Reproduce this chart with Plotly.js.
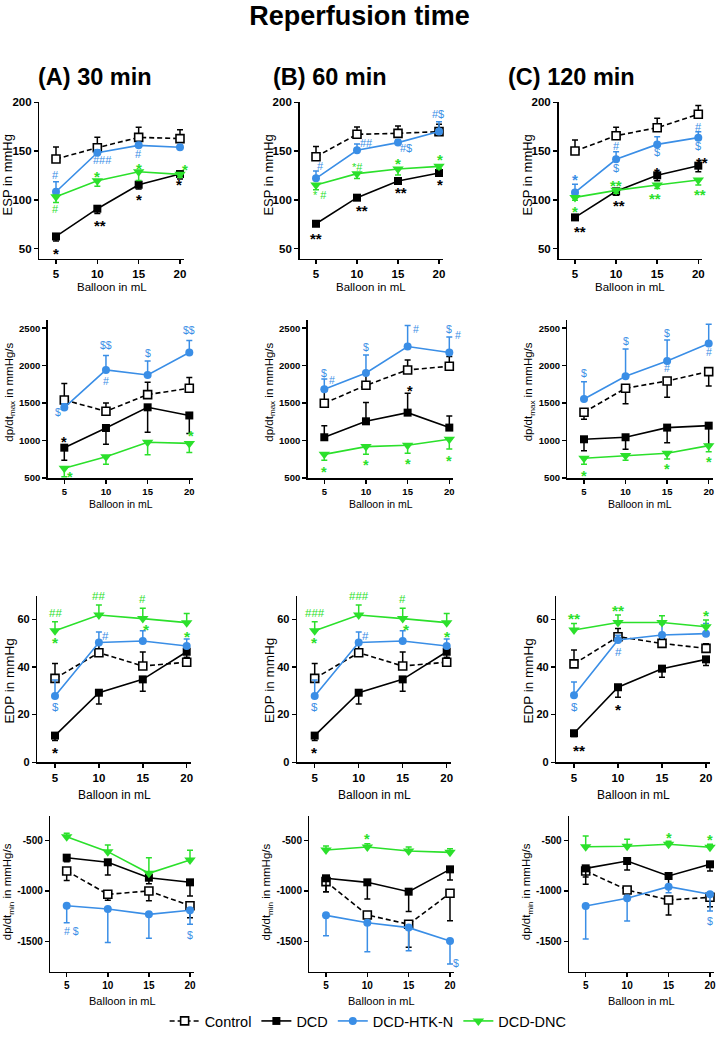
<!DOCTYPE html>
<html>
<head>
<meta charset="utf-8">
<script src="https://cdn.plot.ly/plotly-3.0.1.min.js"></script>
<style>html,body{margin:0;padding:0;background:#fff}</style>
</head>
<body>
<div id="chart" style="width:719px;height:1040px"></div>
<script>
// ---------- data ----------
const doses = [5, 10, 15, 20];
const groups = ['Control', 'DCD', 'DCD-HTK-N', 'DCD-DNC'];
const times = ['(A) 30 min', '(B) 60 min', '(C) 120 min'];

// each array: one row per reperfusion time (30, 60, 120 min), one value per balloon volume
// error values are signed: + bar drawn above the mean, - bar drawn below
const espControl    = [[141.9,153.5,164.1,162.8],[144.3,167.2,168.2,170.0],[150.1,165.8,174.0,187.7]];
const espControlErr = [[12.3,10.6,10.3,9.2],[10.3,7.5,7.5,7.5],[11.3,8.6,9.6,8.9]];
const espDCD        = [[62.6,91.0,115.6,126.5],[75.6,102.3,119.4,127.6],[82.1,108.8,125.2,135.1]];
const espDCDErr     = [[-4.7,-4.8,-4.4,-5.0],[-2.5,-2.0,-2.5,-2.5],[-2.7,-4.0,-5.5,-6.2]];
const espHTK        = [[108.4,148.4,155.9,153.9],[122.1,150.8,158.7,170.0],[107.7,141.6,156.9,163.8]];
const espHTKErr     = [[10.3,3.0,3.0,2.0],[7.5,6.5,3.0,10.2],[8.3,7.8,7.9,6.0]];
const espDNC        = [[103.3,119.7,128.9,126.2],[115.3,126.9,131.7,134.4],[102.6,109.8,115.3,120.4]];
const espDNCErr     = [[-6.0,-5.8,-9.0,-3.0],[-5.0,-4.9,-6.2,-2.5],[-3.0,-3.0,-3.5,-5.0]];

const maxControl    = [[1542,1391,1614,1698],[1498,1738,1943,1992],[1378,1698,1796,1921]];
const maxControlErr = [[219,111,164,143],[165,138,134,129],[-94,-205,-218,-192]];
const maxDCD        = [[905,1168,1444,1335],[1044,1257,1373,1173],[1017,1044,1173,1199]];
const maxDCDErr     = [[-169,-218,-334,-240],[155,250,258,156],[-152,-161,-201,-250]];
const maxHTK        = [[1440,1943,1876,2175],[1685,1903,2255,2175],[1556,1859,2063,2295]];
const maxHTKErr     = [[50,192,187,160],[138,241,281,209],[231,365,281,258]];
const maxDNC        = [[629,785,978,962],[816,919,937,1017],[763,799,830,932]];
const maxDNCErr     = [[-111,-102,-168,-122],[-80,-103,-107,-129],[-80,-63,-76,-80]];

const edpControl    = [[35.2,46.0,40.4,42.0],[35.2,46.0,40.4,42.0],[41.3,52.7,49.9,47.8]];
const edpControlErr = [[6.3,4.0,5.9,2.0],[6.3,4.0,5.9,2.0],[5.8,3.5,2.0,2.0]];
const edpDCD        = [[11.2,29.2,34.8,46.4],[11.2,29.2,34.8,46.4],[12.2,31.5,39.3,43.2]];
const edpDCDErr     = [[-2.1,-4.7,-5.0,-2.4],[-2.1,-4.7,-5.0,-2.4],[-1.4,-4.2,-3.6,-2.6]];
const edpHTK        = [[27.8,50.3,50.9,48.8],[27.8,50.3,50.9,48.8],[28.1,51.3,53.4,54.0]];
const edpHTKErr     = [[6.7,4.4,4.3,2.9],[6.7,4.4,4.3,2.9],[5.6,2.0,4.6,4.3]];
const edpDNC        = [[55.2,61.8,60.3,58.6],[55.2,61.8,60.3,58.6],[55.5,58.7,58.7,56.9]];
const edpDNCErr     = [[3.8,4.2,4.3,3.8],[3.8,4.2,4.3,3.8],[2.8,3.1,2.8,2.8]];

const minControl    = [[-801,-1033,-1000,-1146],[-907,-1238,-1331,-1023],[-801,-990,-1089,-1063]];
const minControlErr = [[-96,-60,-96,-119],[-100,-93,-229,-272],[-60,-60,-149,-93]];
const minDCD        = [[-669,-715,-868,-914],[-874,-914,-1007,-785],[-775,-702,-851,-735]];
const minDCDErr     = [[-40,-126,-60,-136],[-133,-165,-198,-106],[-159,-89,-122,-66]];
const minHTK        = [[-1146,-1179,-1232,-1192],[-1242,-1315,-1364,-1497],[-1149,-1073,-957,-1033]];
const minHTKErr     = [[-169,-334,-238,-139],[-202,-288,-229,-228],[-328,-225,-60,-166]];
const minDNC        = [[-460,-609,-824,-692],[-593,-563,-603,-616],[-560,-556,-536,-566]];
const minDNCErr     = [[33,66,155,96],[40,33,40,36],[106,69,30,30]];

const minTickVals = [-1500, -1000, -500];
const minTickText = ['-1500', '-1000', '-500'];

// significance marks: [time, dose, label, group, y, x offset px]
const espMarks = [
  [0,5,'#',2,125.5,0],[0,5,'#',3,90.3,0],[0,5,'*',1,48.6,0],
  [0,10,'###',2,141,5],[0,10,'*',3,127.2,0],[0,10,'**',1,77,3],
  [0,15,'#',2,146.7,0],[0,15,'*',3,135.8,0],[0,15,'*',1,104,0],
  [0,20,'*',3,134.7,5],[0,20,'*',1,119.4,-1],
  [1,5,'#',2,134.7,4],[1,5,'* #',3,105,4],[1,5,'**',1,64,0],
  [1,10,'##',2,158,9],[1,10,'*#',3,134,0],[1,10,'**',1,92.4,5],
  [1,15,'#$',2,153.5,8],[1,15,'*',3,141,0],[1,15,'**',1,110.8,3],
  [1,20,'#$',2,187.7,-1],[1,20,'*',3,144.3,1],[1,20,'*',1,118.7,1],
  [2,5,'*',2,123.8,0],[2,5,'*',3,91.3,0],[2,5,'**',1,70.8,5],
  [2,10,'#',2,155.6,0],[2,10,'$',2,133,0],[2,10,'**',3,118,0],[2,10,'**',1,97.2,3],
  [2,15,'$',2,149.4,0],[2,15,'*',1,131.7,0],[2,15,'**',3,105,-2],
  [2,20,'#',2,175,0],[2,20,'$',2,155.6,0],[2,20,'**',1,141.6,4],[2,20,'**',3,109.1,2]
];
const maxMarks = [
  [0,5,'$',2,1380,-6],[0,5,'*',1,1017,0],[0,5,'*',3,560,6],
  [0,10,'$$',2,2277,0],[0,10,'#',2,1796,0],[0,15,'$',2,2166,0],
  [0,20,'$$',2,2470,0],[0,20,'*',3,1106,2],
  [1,5,'$',2,1899,0],[1,5,'#',2,1810,8],[1,10,'$',2,2255,0],
  [1,15,'$',2,2643,0],[1,15,'#',2,2491,8],[1,20,'$',2,2491,0],[1,20,'#',2,2411,9],
  [1,15,'*',1,1707,2],
  [1,5,'*',3,620,0],[1,10,'*',3,718,0],[1,15,'*',3,727,0],[1,20,'*',3,772,0],
  [2,5,'$',2,1899,0],[2,10,'$',2,2331,0],[2,15,'$',2,2433,0],[2,20,'$',2,2656,0],
  [2,15,'#',2,1966,0],[2,20,'#',2,2188,0],
  [2,5,'*',3,576,0],[2,15,'*',3,665,0],[2,20,'*',3,754,0]
];
const edpMarks = [
  [0,5,'##',3,62.5,0],[0,5,'*',3,51.6,0],[0,5,'$',2,23.4,0],[0,5,'*',1,5.5,0],
  [0,10,'##',3,69.9,0],[0,10,'#',2,53.1,7],[0,15,'#',3,68.5,0],[0,15,'*',3,57.2,4],[0,20,'*',3,54.4,1],
  [1,5,'###',3,62.5,0],[1,5,'*',3,51.6,0],[1,5,'$',2,23.4,0],[1,5,'*',1,5.5,0],
  [1,10,'###',3,69.9,0],[1,10,'#',2,53.1,7],[1,15,'#',3,68.5,0],[1,15,'*',3,57.2,4],[1,20,'*',3,54.4,1],
  [2,5,'**',3,61.8,0],[2,5,'$',2,23.4,0],[2,5,'**',1,6.3,5],
  [2,10,'**',3,65,0],[2,10,'#',2,46.2,0],[2,10,'*',1,23.6,0],[2,20,'*',3,62.9,0]
];
const minMarks = [
  [0,5,'# $',2,-1394,5],[0,20,'$',2,-1437,0],
  [1,10,'*',3,-450,0],[1,20,'$',2,-1718,6],
  [2,15,'*',3,-437,0],[2,20,'*',3,-460,0],[2,20,'$',2,-1298,0]
];

// ---------- styling ----------
const W = 719, H = 1040;
const FONT = 'Liberation Sans, Arial, sans-serif';
const BLUE = '#3a8ee6', GREEN = '#2be02b';
const groupStyle = [
  {color:'#000', dash:'5px,3px', symbol:'square',        size:8, fill:'#fff'},
  {color:'#000', dash:'solid',   symbol:'square',        size:8},
  {color:BLUE,   dash:'solid',   symbol:'circle',        size:8},
  {color:GREEN,  dash:'solid',   symbol:'triangle-down', size:10}
];

// panel geometry in pixels: pixel x of dose 5 and dose 20 per column, y extent per row
const rows = [
  {means:[espControl,espDCD,espHTK,espDNC], errs:[espControlErr,espDCDErr,espHTKErr,espDNCErr],
   marks:espMarks, range:[40,200], dtick:50, top:102.3, bottom:258.5,
   xpix:[[56,180],[316,439],[575,698.3]], ytitle:'ESP in mmHg', ytFont:13, ytOff:32, ytY:175,
   xtY:287, tick:11.5, xtick:11.5, xtFont:11.5, markFont:11},
  {means:[maxControl,maxDCD,maxHTK,maxDNC], errs:[maxControlErr,maxDCDErr,maxHTKErr,maxDNCErr],
   marks:maxMarks, range:[500,2610], dtick:500, top:320, bottom:478,
   xpix:[[64.3,189.3],[324.3,449.3],[584,708.7]], ytitle:'dp/dt<sub>max</sub> in mmHg/s', ytFont:11.5, ytOff:38, ytY:392,
   xtY:504, tick:9.5, xtick:9.5, xtFont:10.5, markFont:10.5},
  {means:[edpControl,edpDCD,edpHTK,edpDNC], errs:[edpControlErr,edpDCDErr,edpHTKErr,edpDNCErr],
   marks:edpMarks, range:[0,70], dtick:20, top:595.5, bottom:762.3,
   xpix:[[55,186.7],[314.7,446.7],[574,706]], ytitle:'EDP in mmHg', ytFont:13.5, ytOff:28, ytY:681,
   xtY:795, tick:11, xtick:11.5, xtFont:12, markFont:11.5},
  {means:[minControl,minDCD,minHTK,minDNC], errs:[minControlErr,minDCDErr,minHTKErr,minDNCErr],
   marks:minMarks, range:[-1800,-250], tickvals:minTickVals, ticktext:minTickText, top:815.5, bottom:971.5,
   xpix:[[66.7,190],[326,450],[585.7,710]], ytitle:'dp/dt<sub>min</sub> in mmHg/s', ytFont:11.5, ytOff:42, ytY:892,
   xtY:1001, tick:10, xtick:10, xtFont:11, markFont:10.5}
];
const colTitleX = [95, 330, 571];

const XR = [3, 20.5];
const traces = [];
const annotations = [];
const layout = {
  width: W, height: H,
  margin: {l:0, r:0, t:0, b:0},
  paper_bgcolor: '#fff', plot_bgcolor: 'rgba(0,0,0,0)',
  font: {family: FONT, color: '#000'},
  title: {text: 'Reperfusion time', x: 0.5, xanchor: 'center', y: 1 - 16/H, yanchor: 'middle',
          font: {family: FONT, size: 27, weight: 'bold', color: '#000'}},
  showlegend: true,
  legend: {orientation: 'h', x: 0.512, xanchor: 'center', y: 1 - 1021/H, yanchor: 'middle',
           font: {family: FONT, size: 14.5, color: '#000'}, itemwidth: 30, tracegroupgap: 0},
  annotations: annotations
};

times.forEach((t, c) => {
  annotations.push({text: '<b>' + t + '</b>', xref: 'paper', yref: 'paper',
    x: colTitleX[c] / W, y: 1 - 77 / H, xanchor: 'center', yanchor: 'middle', showarrow: false,
    font: {family: FONT, size: 23.5, color: '#000'}});
});

rows.forEach((row, r) => {
  for (let c = 0; c < 3; c++) {
    const k = r * 3 + c + 1;
    const xa = 'xaxis' + (k === 1 ? '' : k), ya = 'yaxis' + (k === 1 ? '' : k);
    const xr = 'x' + (k === 1 ? '' : k), yr = 'y' + (k === 1 ? '' : k);
    const [x5, x20] = row.xpix[c];
    const w = (x20 - x5) / 15;
    const L = x5 - (5 - XR[0]) * w, R = x20 + (XR[1] - 20) * w;
    layout[xa] = {domain: [L / W, R / W], range: XR, anchor: yr,
      tickvals: doses, showline: true, linewidth: 1.5, linecolor: '#000', mirror: false,
      ticks: 'outside', ticklen: 4, tickwidth: 1.5, tickcolor: '#000',
      showgrid: false, zeroline: false, fixedrange: true,
      tickfont: {family: FONT, size: row.xtick, weight: 'bold', color: '#000'}};
    const yax = {domain: [1 - row.bottom / H, 1 - row.top / H], range: row.range, anchor: xr,
      showline: true, linewidth: 1.5, linecolor: '#000',
      ticks: 'outside', ticklen: 4, tickwidth: 1.5, tickcolor: '#000',
      showgrid: false, zeroline: false, fixedrange: true,
      tickfont: {family: FONT, size: row.tick, weight: 'bold', color: '#000'}};
    if (row.tickvals) { yax.tickmode = 'array'; yax.tickvals = row.tickvals; yax.ticktext = row.ticktext; }
    else { yax.dtick = row.dtick; yax.tick0 = 0; }
    layout[ya] = yax;

    // axis titles
    annotations.push({text: 'Balloon in mL', xref: 'paper', yref: 'paper',
      x: (L + R) / 2 / W, y: 1 - row.xtY / H, xanchor: 'center', yanchor: 'middle', showarrow: false,
      font: {family: FONT, size: row.xtFont, color: '#000'}});
    annotations.push({text: row.ytitle, xref: 'paper', yref: 'paper', textangle: -90,
      x: (L - row.ytOff) / W, y: 1 - row.ytY / H, xanchor: 'center', yanchor: 'middle', showarrow: false,
      font: {family: FONT, size: row.ytFont, color: '#000'}});

    // series
    groups.forEach((g, gi) => {
      const st = groupStyle[gi];
      const e = row.errs[gi][c];
      traces.push({
        type: 'scatter', mode: 'lines+markers', name: g, legendgroup: g,
        showlegend: k === 1, xaxis: xr, yaxis: yr, cliponaxis: false,
        x: doses, y: row.means[gi][c],
        line: {color: st.color, width: 1.6, dash: st.dash},
        marker: {symbol: st.symbol, size: st.size, color: st.fill || st.color,
                 line: {color: st.color, width: st.fill ? 1.6 : 0}},
        error_y: {type: 'data', symmetric: false,
                  array: e.map(v => v > 0 ? v : 0), arrayminus: e.map(v => v < 0 ? -v : 0),
                  color: st.color, thickness: 1.5, width: 3}
      });
    });

    // significance marks (asterisks drawn bold and larger so they read like the # and $ marks)
    row.marks.filter(m => m[0] === c).forEach(m => {
      const onlyStars = /^\*+$/.test(m[2]);
      const size = onlyStars ? row.markFont + 4 : row.markFont;
      annotations.push({text: m[2], xref: xr, yref: yr, x: m[1], y: m[4],
        xanchor: 'center', yanchor: 'middle', showarrow: false,
        xshift: m[5], yshift: onlyStars ? -0.22 * size : 0,
        font: {family: FONT, size: size, weight: onlyStars ? 'bold' : 'normal',
               color: groupStyle[m[3]].color}});
    });
  }
});

Plotly.newPlot('chart', traces, layout, {staticPlot: true, displayModeBar: false});
</script>
</body>
</html>
